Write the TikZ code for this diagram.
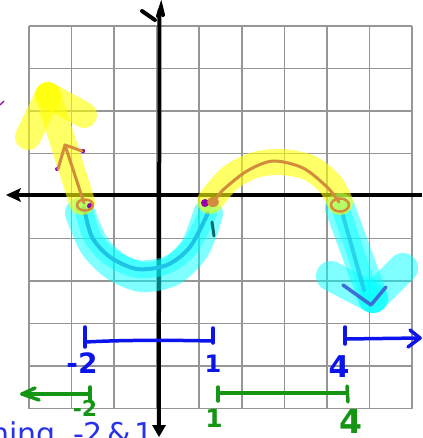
\documentclass[tikz,border=0pt]{standalone}
\usepackage{fontspec}
\setmainfont{DejaVu Sans}
\definecolor{gridgray}{RGB}{150,150,150}
\definecolor{hlyellow}{RGB}{255,255,0}
\definecolor{hlcyan}{RGB}{0,255,255}
\definecolor{penbrown}{RGB}{210,140,60}
\definecolor{penblue}{RGB}{10,20,235}
\definecolor{pengreen}{RGB}{20,150,20}
\definecolor{pencyan}{RGB}{30,195,230}
\definecolor{penpurple}{RGB}{150,0,170}
\definecolor{penteal}{RGB}{0,110,110}
\definecolor{headblue}{RGB}{60,110,215}
\definecolor{txtblue}{RGB}{40,50,235}
\begin{document}
\begin{tikzpicture}[x=1pt,y=-1pt,
 gridline/.style={draw=gridgray,line width=1.6pt},
 axisline/.style={draw=black,line width=4pt},
 yhl/.style={draw=hlyellow,opacity=0.6,line width=26pt,line cap=round,line join=round},
 chl/.style={draw=hlcyan,opacity=0.5,line width=30pt,line cap=round,line join=round},
 chlin/.style={draw=hlcyan,opacity=0.45,line width=18pt,line cap=round,line join=round},
 brownpen/.style={draw=penbrown,line width=3pt,line cap=round,line join=round},
 cyanpen/.style={draw=pencyan,line width=4pt,line cap=round,line join=round},
 bluepen/.style={draw=penblue,line width=3.5pt,line cap=round,line join=round},
 greenpen/.style={draw=pengreen,line width=3.5pt,line cap=round,line join=round},
 bluelbl/.style={text=penblue,inner sep=0pt},
 greenlbl/.style={text=pengreen,inner sep=0pt},
]
\useasboundingbox (0,0) rectangle (422,438);
% grid
\foreach \i in {0,...,9} {
  \draw[gridline] ({29+42.56*\i},26) -- ({29+42.56*\i},408.5);
  \draw[gridline] (29,{26+42.5*\i}) -- (412,{26+42.5*\i});
}
% axes
\draw[axisline] (10,195) -- (422,195);
\fill (6,195) -- (21,188) -- (18,195) -- (21,202) -- cycle;
\draw[axisline] (158.8,430) -- (159.5,10);
\fill (152,425) -- (166,425) -- (159,437) -- cycle;
\draw[axisline,line cap=round] (158,16) -- (161,7) -- (163,15);
\draw[axisline,line cap=round] (142,11) -- (155,20);
% cyan highlights
\draw[chl] plot[smooth] coordinates {(80,213) (94,245) (115,266) (142,277) (172,271) (195,248) (208,214)};
\draw[chlin] plot[smooth] coordinates {(84,210) (92,237) (110,257) (137,269) (167,265) (190,247) (208,213)};
\draw[cyanpen] plot[smooth] coordinates {(84,208) (92,237) (110,257) (137,269) (167,265) (190,247) (208,213)};
\draw[chl] (340,208) -- (373,298);
\draw[chl] (373,298) -- (331,276);
\draw[chl] (373,298) -- (403,268);
\draw[chlin] (341,210) -- (370,295);
\draw[cyanpen,opacity=0.7] (342,212) -- (364,290);
\draw[draw=headblue,line width=3.5pt,line cap=round,line join=round] (343,285) -- (371,305) -- (386,287);
% yellow highlights
\draw[yhl] (82,202) -- (48,95);
\draw[yhl] (48,95) -- (28,137);
\draw[yhl] (48,95) -- (84,115);
\draw[yhl] plot[smooth] coordinates {(210,201) (230,178) (255,165) (282,162) (310,168) (330,184) (340,202)};
% purple dots
\fill[penpurple] (205,203) circle[radius=4pt];
\fill[penpurple] (90,206) circle[radius=3pt];
\fill[penpurple] (83,151) circle[radius=2.2pt];
\fill[penpurple] (57,169) circle[radius=2pt];
\draw[penpurple,line width=1.2pt] (0,105) -- (4,101);
% brown pen
\draw[brownpen] (84,203) -- (65,145);
\draw[brownpen] (58,169) -- (65,145) -- (82,151);
\draw[brownpen] plot[smooth] coordinates {(213,203) (223,190) (247,171) (273,161) (303,168) (327,187) (339,202)};
\draw[brownpen,line width=2.5pt] (85,205) ellipse [x radius=8pt, y radius=5.5pt];
\fill[penbrown] (213,202) ellipse [x radius=6pt, y radius=5pt];
\draw[brownpen,line width=2.5pt] (340,205) ellipse [x radius=9pt, y radius=6.5pt];
\draw[draw=penteal,line width=3pt,line cap=round] (212,222) -- (214,236);
% blue intervals
\draw[bluepen] (85,327) -- (85,347);
\draw[bluepen] (86,342) .. controls (120,340) and (170,340) .. (212,341);
\draw[bluepen] (213,328) -- (213,343);
\node[bluelbl,font=\fontsize{28}{28}\selectfont\bfseries] (bm2) at (82,363) {-2};
\node[bluelbl,font=\fontsize{24}{24}\selectfont\bfseries] (b1) at (213,364) {1};
\draw[bluepen] (345,327) -- (345,344);
\draw[bluepen] (345,339) -- (420,338);
\draw[bluepen] (410,330) -- (420,338) -- (408,347);
\node[bluelbl,font=\fontsize{30}{30}\selectfont\bfseries] (b4) at (339,367) {4};
% green intervals
\draw[greenpen] (90,394) -- (22,394);
\draw[greenpen] (35,388) -- (22,394) -- (39,400);
\draw[greenpen] (90,387) -- (90,401);
\node[greenlbl,font=\fontsize{22}{22}\selectfont\bfseries] (gm2) at (85,408) {-2};
\draw[greenpen] (218,387) -- (218,401);
\draw[greenpen] (218,393) -- (347,393);
\draw[greenpen] (347,386) -- (348,402);
\node[greenlbl,font=\fontsize{25}{25}\selectfont\bfseries] (g1) at (214,418) {1};
\node[greenlbl,font=\fontsize{33}{33}\selectfont\bfseries] (g4) at (351,421) {4};
% bottom note
\node[anchor=base west,inner sep=0pt,text=txtblue,font=\fontsize{30}{30}\selectfont] (note) at (-10,444) {ning\hspace{8pt} -2\hspace{4pt}\&\hspace{4pt}1};
\end{tikzpicture}
\end{document}
